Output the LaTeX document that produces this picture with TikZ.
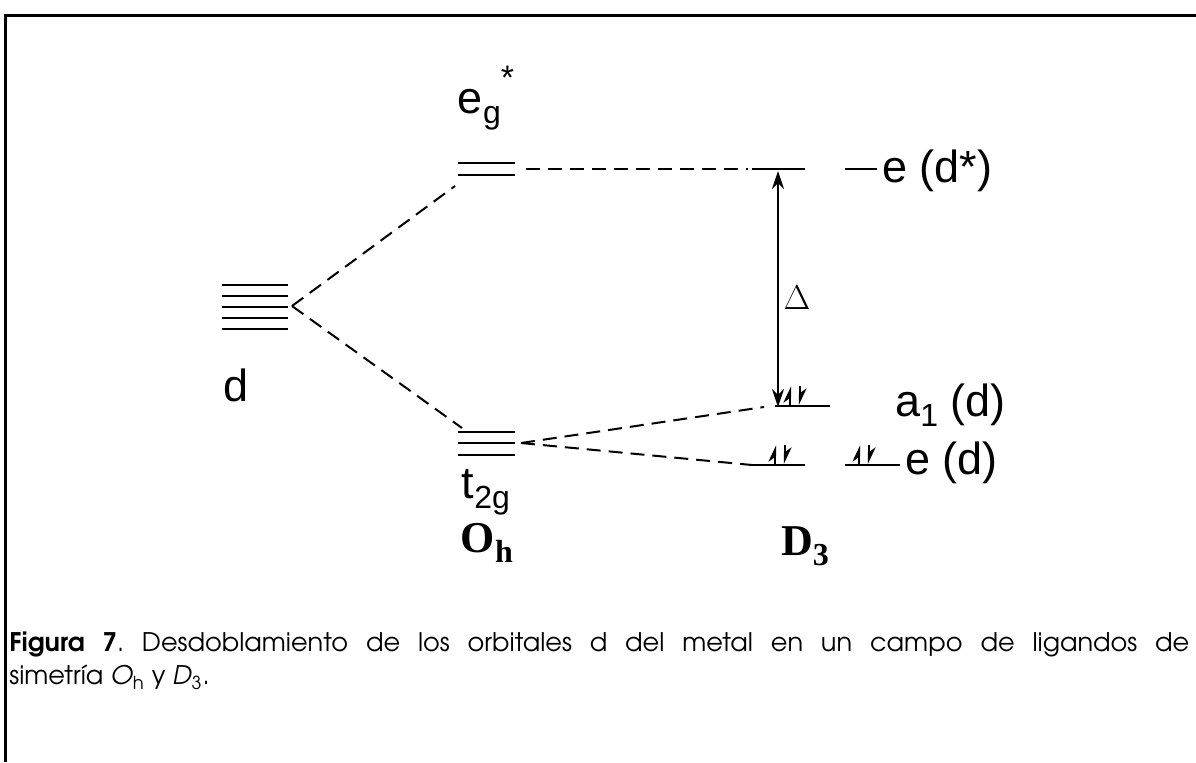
\documentclass[tikz,border=0pt]{standalone}
\usepackage{fontspec}
\setmainfont{Liberation Sans}
\newfontfamily\capfont{TeX Gyre Adventor}
\newfontfamily\romanfont{Liberation Serif}
\usetikzlibrary{arrows.meta}

\newcommand{\lowsub}[1]{\raisebox{-5pt}{\fontsize{16}{16}\selectfont #1}}
\newcommand{\highsup}[1]{\raisebox{12pt}{\fontsize{17}{17}\selectfont #1}}

\begin{document}
\begin{tikzpicture}[x=0.5pt, y=-0.5pt,
    every node/.style={font=\fontsize{22.5}{26}\selectfont, inner sep=0pt},
    level/.style={line width=1pt},
    link/.style={line width=1pt, dash pattern=on 7pt off 4pt},
    spinup/.style={line width=1.4pt, -{Stealth[harpoon, length=7pt, width=6.5pt]}},
    gap/.style={line width=0.9pt, {Stealth[length=9pt, width=6pt]}-{Stealth[length=9pt, width=6pt]}}]
  \useasboundingbox (0,0) rectangle (1196,762);
  % frame
  \draw[line width=1.5pt] (5,762) -- (5,15) -- (1196,15);

  % free ion d
  \foreach \i in {0,...,4}
    \draw[level] (222,{285+11*\i}) -- (288,{285+11*\i});
  \coordinate (dR) at (292,306);
  \node (dlab) at (236,385) {d};

  % O_h
  \draw[level] (458,163) -- (515,163);
  \draw[level] (458,175) -- (515,175);
  \coordinate (egL) at (455,186);
  \coordinate (egR) at (526,169);
  \node (eglab) at (486,98) {e\lowsub{g}\highsup{*}};
  \foreach \y in {432,443,455}
    \draw[level] (458,\y) -- (515,\y);
  \coordinate (tL) at (462,428);
  \coordinate (tR) at (521,443);
  \node (tlab) at (486,492) {t\lowsub{2g}};
  \node[font=\romanfont\bfseries\fontsize{22}{24}\selectfont] (oh) at (487,543) {O\lowsub{h}};

  % D_3
  \coordinate (esL) at (752,169);
  \coordinate (esR) at (805,169);
  \coordinate (es2L) at (845,169);
  \coordinate (es2R) at (877,169);
  \draw[level] (esL) -- (esR);
  \draw[level] (es2L) -- (es2R);
  \node[anchor=west] (eslab) at (882,171) {e (d*)};
  \coordinate (aL) at (775,406);
  \coordinate (aR) at (830,406);
  \draw[level] (aL) -- (aR);
  \node[anchor=west] (alab) at (895,405) {a\lowsub{1} (d)};
  \coordinate (eL) at (752,465);
  \coordinate (eR) at (805,465);
  \coordinate (e2L) at (845,465);
  \coordinate (e2R) at (900,465);
  \draw[level] (eL) -- (eR);
  \draw[level] (e2L) -- (e2R);
  \node[anchor=west] (elab) at (905,463) {e (d)};
  \node[font=\romanfont\bfseries\fontsize{22}{24}\selectfont] (dthree) at (805,546) {D\lowsub{3}};

  % electrons
  \foreach \x/\y in {790/406, 775/465, 859/465} {
    \draw[spinup] (\x,\y-1) -- (\x,\y-20);
    \draw[spinup] (\x+10,\y-20) -- (\x+10,\y-1);
  }

  % correlation lines
  \draw[link] (dR) -- (egL);
  \draw[link] (dR) -- (tL);
  \draw[link] (egR) -- (748,169);
  \draw[link] (tR) -- (764,407);
  \draw[link] (tR) -- (eL);

  % splitting
  \coordinate (gtop) at (778,171);
  \coordinate (gbot) at (778,407);
  \draw[gap] (gbot) -- (gtop);
  \node (delta) at (797,298) {\fontsize{19}{22}\selectfont$\Delta$};

  % caption
  \node[anchor=north west, text width=590pt, align=justify,
        font=\capfont\fontsize{12.8}{16.5}\selectfont] (cap) at (9,631)
    {\frenchspacing\textbf{Figura 7}. Desdoblamiento de los orbitales d del metal en un campo de ligandos de\linebreak
     simetría \textit{O}\textsubscript{h} y \textit{D}\textsubscript{3}.};
\end{tikzpicture}
\end{document}
